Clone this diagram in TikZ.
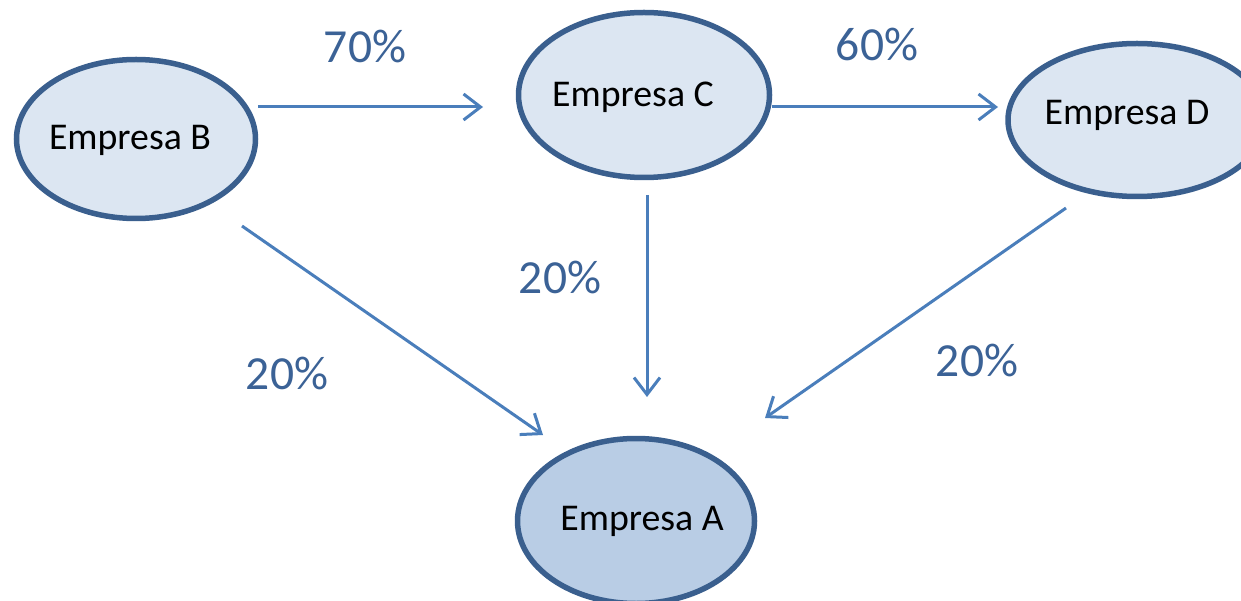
\documentclass[tikz,border=0pt]{standalone}
\usepackage{fontspec}
\setmainfont{Carlito}
\usetikzlibrary{shapes.geometric,arrows.meta}
\definecolor{edgeblue}{HTML}{3A5F8E}
\definecolor{fillB}{HTML}{DCE6F2}
\definecolor{fillA}{HTML}{B9CDE5}
\definecolor{arrowblue}{HTML}{4A7EBB}
\definecolor{labelblue}{HTML}{3B6296}
\tikzset{
  firm/.style={ellipse, draw=edgeblue, line width=5.5pt, fill=fillB, inner sep=0pt},
  firmtext/.style={font=\fontsize{37.8}{44}\selectfont, text=black, inner sep=0pt},
  pct/.style={font=\fontsize{47.5}{54}\selectfont, text=labelblue, inner sep=0pt},
  link/.style={draw=arrowblue, line width=3pt, -{Straight Barb[length=17pt,width=26pt,line width=3pt]}}
}
\begin{document}
\begin{tikzpicture}[x=1pt,y=-1pt]
\useasboundingbox (0,0) rectangle (1241,601);
\begin{scope}
\clip (0,0) rectangle (1241,601);
\node[firm, minimum width=239pt, minimum height=159pt] (B) at (136,139) {};
\node[firm, minimum width=251pt, minimum height=165pt] (C) at (644,95) {};
\node[firm, minimum width=258pt, minimum height=153pt] (D) at (1137,120) {};
\node[firm, fill=fillA, minimum width=237pt, minimum height=165pt] (A) at (636,521) {};
\end{scope}
\node[firmtext] (tB) at (130,140) {Empresa B};
\node[firmtext] (tC) at (633,97) {Empresa C};
\node[firmtext] (tD) at (1127,115) {Empresa D};
\node[firmtext] (tA) at (642,521) {Empresa A};
\coordinate (bc1) at (258,107); \coordinate (bc2) at (483,107);
\coordinate (cd1) at (772,107); \coordinate (cd2) at (998,107);
\coordinate (ba1) at (242,226); \coordinate (ba2) at (543,435);
\coordinate (ca1) at (647,195); \coordinate (ca2) at (647,397);
\coordinate (da1) at (1066,208); \coordinate (da2) at (765,418);
\draw[link] (bc1) -- (bc2);
\draw[link] (cd1) -- (cd2);
\draw[link] (ba1) -- (ba2);
\draw[link] (ca1) -- (ca2);
\draw[link] (da1) -- (da2);
\node[pct] (l1) at (365,47) {70\%};
\node[pct] (l2) at (877,45) {60\%};
\node[pct] (l3) at (560,277) {20\%};
\node[pct] (l4) at (287,373) {20\%};
\node[pct] (l5) at (977,360) {20\%};
\end{tikzpicture}
\end{document}
